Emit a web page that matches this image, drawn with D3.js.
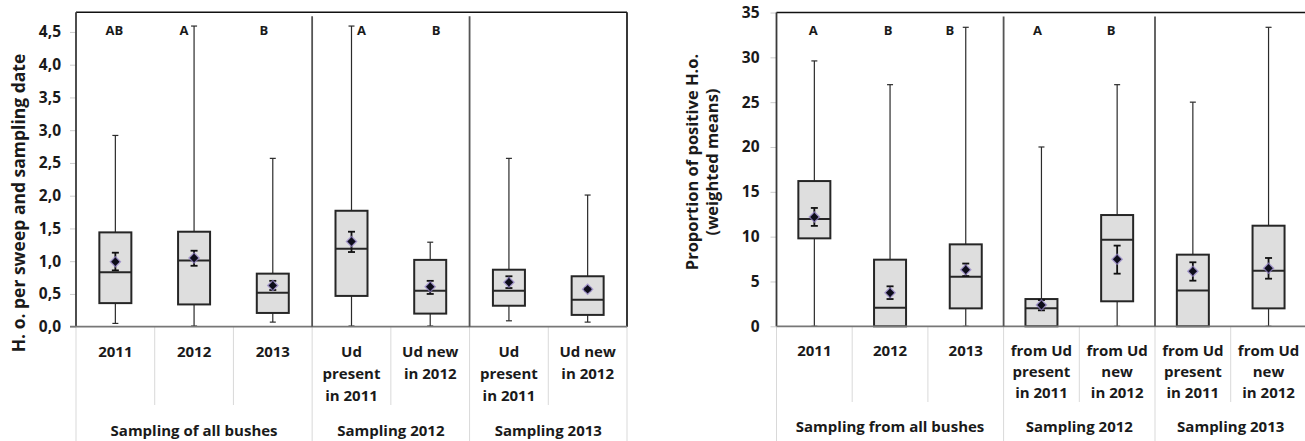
<!DOCTYPE html>
<html>
<head>
<meta charset="utf-8">
<script src="https://cdn.jsdelivr.net/npm/d3@7"></script>
<style>
  html, body { margin: 0; padding: 0; background: #fff; }
  svg { display: block; font-family: "Open Sans", "Noto Sans", sans-serif; font-weight: bold; }
</style>
</head>
<body>
<svg id="fig" width="1305" height="441"></svg>
<script>
// ---- Panel A: H. o. per sweep and sampling date ----
const hoCategories = [["2011"], ["2012"], ["2013"], ["Ud", "present", "in 2011"], ["Ud new", "in 2012"], ["Ud", "present", "in 2011"], ["Ud new", "in 2012"]];
const hoGroups = ["Sampling of all bushes", "Sampling 2012", "Sampling 2013"];
const hoGroupSpans = [[0, 2], [3, 4], [5, 6]];
const hoWhiskerLow = [0.05, 0.01, 0.07, 0.01, 0.01, 0.09, 0.07];
const hoQ1 = [0.36, 0.34, 0.21, 0.47, 0.20, 0.32, 0.18];
const hoMedian = [0.83, 1.01, 0.52, 1.19, 0.55, 0.55, 0.41];
const hoQ3 = [1.44, 1.45, 0.81, 1.77, 1.02, 0.87, 0.77];
const hoWhiskerHigh = [2.92, 4.59, 2.57, 4.59, 1.29, 2.57, 2.01];
const hoMean = [0.99, 1.05, 0.63, 1.30, 0.61, 0.68, 0.57];
const hoMeanLow = [0.86, 0.93, 0.56, 1.14, 0.50, 0.59, 0.55];
const hoMeanHigh = [1.13, 1.16, 0.70, 1.45, 0.70, 0.77, 0.59];
const hoLetters = ["AB", "A", "B", "A", "B", "", ""];
const hoTicks = [0, 0.5, 1, 1.5, 2, 2.5, 3, 3.5, 4, 4.5];
const hoMax = 4.8;

// ---- Panel B: proportion of positive H.o. ----
const posCategories = [["2011"], ["2012"], ["2013"], ["from Ud", "present", "in 2011"], ["from Ud", "new", "in 2012"], ["from Ud", "present", "in 2011"], ["from Ud", "new", "in 2012"]];
const posGroups = ["Sampling from all bushes", "Sampling 2012", "Sampling 2013"];
const posGroupSpans = [[0, 2], [3, 4], [5, 6]];
const posWhiskerLow = [0, 0, 0, 0, 0, 0, 0];
const posQ1 = [9.81, 0, 2.0, 0, 2.79, 0, 2.0];
const posMedian = [11.97, 2.07, 5.53, 2.0, 9.66, 4.0, 6.2];
const posQ3 = [16.2, 7.43, 9.14, 3.04, 12.41, 7.99, 11.22];
const posWhiskerHigh = [29.6, 26.95, 33.35, 20.0, 26.95, 25.0, 33.35];
const posMean = [12.2, 3.75, 6.31, 2.37, 7.47, 6.13, 6.47];
const posMeanLow = [11.2, 3.04, 5.6, 1.78, 5.87, 5.09, 5.31];
const posMeanHigh = [13.2, 4.46, 7.0, 2.93, 9.0, 7.14, 7.62];
const posLetters = ["A", "B", "B", "A", "B", "", ""];
const posTicks = [0, 5, 10, 15, 20, 25, 30, 35];
const posMax = 35;

const commaLocale = d3.formatLocale({ decimal: ",", thousands: ".", grouping: [3], currency: ["", ""] });

const svg = d3.select("#fig");
const ink = "#1a1a1a";

function drawPanel(cfg) {
  const g = svg.append("g");
  const n = cfg.categories.length;
  const x = d3.scaleBand().domain(d3.range(n)).range([cfg.left, cfg.right]);
  const y = d3.scaleLinear().domain([0, cfg.max]).range([cfg.bottom, cfg.top]);
  const cx = i => x(i) + x.bandwidth() / 2;
  const edge = i => i < n ? x(i) : cfg.right;
  const groupEnds = new Set(cfg.spans.map(s => s[1] + 1));
  const idx = d3.range(n);

  // separators in the label area under the axis
  g.selectAll("line.sep").data(d3.range(n + 1)).join("line")
    .attr("class", "sep")
    .attr("x1", edge).attr("x2", edge)
    .attr("y1", cfg.bottom)
    .attr("y2", i => (i === 0 || groupEnds.has(i)) ? 441 : cfg.catSepEnd)
    .attr("stroke", "#d9d9d9").attr("stroke-width", 1);

  // y axis
  const yAxis = d3.axisLeft(y).tickValues(cfg.ticks).tickSize(6).tickSizeOuter(0)
    .tickFormat(cfg.fmt).tickPadding(cfg.tickPad);
  const ax = g.append("g").attr("transform", `translate(${cfg.left},0)`).call(yAxis);
  ax.select(".domain").remove();
  ax.selectAll(".tick line").attr("stroke", "#cccccc");
  ax.selectAll(".tick text").attr("font-family", "'Open Sans', sans-serif").attr("font-weight", "bold")
    .attr("font-size", cfg.tickFont).attr("fill", ink);

  // y title
  const tt = g.append("text")
    .attr("transform", `translate(${cfg.titleX},${cfg.titleY}) rotate(-90)`)
    .attr("text-anchor", "middle").attr("font-size", cfg.titleFont).attr("fill", ink);
  cfg.title.forEach((t, k) => tt.append("tspan").attr("x", 0).attr("dy", k === 0 ? 0 : cfg.titleLine).text(t));

  // whiskers with end caps
  const whisk = g.append("g").attr("stroke", "#2b2b2b").attr("stroke-width", 1.2);
  idx.forEach(i => {
    whisk.append("line").attr("x1", cx(i)).attr("x2", cx(i))
      .attr("y1", y(cfg.whiskerLow[i])).attr("y2", y(cfg.whiskerHigh[i]));
    [cfg.whiskerLow[i], cfg.whiskerHigh[i]].forEach(v => {
      whisk.append("line").attr("x1", cx(i) - 3).attr("x2", cx(i) + 3).attr("y1", y(v)).attr("y2", y(v));
    });
  });

  // interquartile boxes and medians
  const bw = cfg.boxWidth;
  g.selectAll("rect.box").data(idx).join("rect")
    .attr("class", "box")
    .attr("x", i => cx(i) - bw / 2).attr("width", bw)
    .attr("y", i => y(cfg.q3[i])).attr("height", i => y(cfg.q1[i]) - y(cfg.q3[i]))
    .attr("fill", "#dedede").attr("stroke", "#262626").attr("stroke-width", 2);
  g.selectAll("line.median").data(idx).join("line")
    .attr("class", "median")
    .attr("x1", i => cx(i) - bw / 2).attr("x2", i => cx(i) + bw / 2)
    .attr("y1", i => y(cfg.median[i])).attr("y2", i => y(cfg.median[i]))
    .attr("stroke", "#262626").attr("stroke-width", 2);

  // weighted mean with its error bar
  const mg = g.append("g");
  idx.forEach(i => {
    const lo = y(cfg.meanLow[i]), hi = y(cfg.meanHigh[i]);
    mg.append("line").attr("x1", cx(i)).attr("x2", cx(i)).attr("y1", lo).attr("y2", hi)
      .attr("stroke", "#111").attr("stroke-width", 1.8);
    [lo, hi].forEach(v => mg.append("line").attr("x1", cx(i) - 3.5).attr("x2", cx(i) + 3.5)
      .attr("y1", v).attr("y2", v).attr("stroke", "#111").attr("stroke-width", 1.8));
    mg.append("path").attr("d", d3.symbol(d3.symbolSquare, 72)())
      .attr("transform", `translate(${cx(i)},${y(cfg.mean[i])}) rotate(45)`)
      .attr("fill", "#8e7cc3").attr("opacity", 0.75);
    mg.append("path").attr("d", d3.symbol(d3.symbolSquare, 36)())
      .attr("transform", `translate(${cx(i)},${y(cfg.mean[i])}) rotate(45)`)
      .attr("fill", "#0d0d1a");
  });

  // plot frame and group dividers
  const fr = g.append("g");
  fr.append("line").attr("x1", cfg.left).attr("x2", cfg.right).attr("y1", cfg.top).attr("y2", cfg.top)
    .attr("stroke", "#111").attr("stroke-width", 1.6);
  fr.append("line").attr("x1", cfg.left).attr("x2", cfg.left).attr("y1", cfg.top).attr("y2", cfg.bottom)
    .attr("stroke", "#3a3a3a").attr("stroke-width", 1.8);
  fr.append("line").attr("x1", cfg.right).attr("x2", cfg.right).attr("y1", cfg.top).attr("y2", cfg.bottom)
    .attr("stroke", "#222").attr("stroke-width", 1.8);
  fr.append("line").attr("x1", cfg.left - cfg.axisOver).attr("x2", cfg.right).attr("y1", cfg.bottom).attr("y2", cfg.bottom)
    .attr("stroke", "#777").attr("stroke-width", 1.8);
  cfg.spans.slice(0, -1).forEach(s => {
    const xs = x(s[1] + 1);
    fr.append("line").attr("x1", xs).attr("x2", xs).attr("y1", cfg.top + 4).attr("y2", cfg.bottom)
      .attr("stroke", "#555").attr("stroke-width", 1.8);
  });

  // significance letters
  g.selectAll("text.letter").data(idx).join("text")
    .attr("class", "letter")
    .attr("x", i => cx(i) + cfg.letterShift[i]).attr("y", cfg.letterY)
    .attr("text-anchor", "middle").attr("dominant-baseline", "central")
    .attr("font-size", cfg.letterFont).attr("fill", ink)
    .text(i => cfg.letters[i]);

  // category labels
  idx.forEach(i => {
    cfg.categories[i].forEach((t, k) => {
      g.append("text").attr("x", cx(i)).attr("y", cfg.catY + k * cfg.catLine)
        .attr("text-anchor", "middle").attr("dominant-baseline", "central")
        .attr("font-size", cfg.catFont).attr("fill", ink).text(t);
    });
  });

  // group labels
  cfg.groups.forEach((t, k) => {
    const s = cfg.spans[k];
    const gx = (edge(s[0]) + edge(s[1] + 1)) / 2;
    g.append("text").attr("x", gx).attr("y", cfg.groupY)
      .attr("text-anchor", "middle").attr("dominant-baseline", "central")
      .attr("font-size", cfg.catFont).attr("fill", ink).text(t);
  });
}

drawPanel({
  categories: hoCategories, groups: hoGroups, spans: hoGroupSpans,
  whiskerLow: hoWhiskerLow, q1: hoQ1, median: hoMedian, q3: hoQ3, whiskerHigh: hoWhiskerHigh,
  mean: hoMean, meanLow: hoMeanLow, meanHigh: hoMeanHigh, letters: hoLetters,
  ticks: hoTicks, max: hoMax, fmt: commaLocale.format(".1f"),
  left: 76, right: 627, top: 12.3, bottom: 326.7, boxWidth: 32, axisOver: 6,
  tickFont: 15.5, tickPad: 9,
  title: ["H. o.  per sweep and sampling date"], titleX: 25, titleY: 203, titleFont: 17.5, titleLine: 0,
  letterY: 29.5, letterFont: 13, letterShift: [-1, -10, -9, 10, 6, 0, 0],
  catY: 351, catLine: 22, catFont: 15, catSepEnd: 405, groupY: 430
});

drawPanel({
  categories: posCategories, groups: posGroups, spans: posGroupSpans,
  whiskerLow: posWhiskerLow, q1: posQ1, median: posMedian, q3: posQ3, whiskerHigh: posWhiskerHigh,
  mean: posMean, meanLow: posMeanLow, meanHigh: posMeanHigh, letters: posLetters,
  ticks: posTicks, max: posMax, fmt: d3.format("d"),
  left: 776.5, right: 1306.4, top: 12.5, bottom: 326.3, boxWidth: 32, axisOver: 0,
  tickFont: 15.5, tickPad: 11,
  title: ["Proportion of positive H.o.", "(weighted means)"], titleX: 698, titleY: 162, titleFont: 16.5, titleLine: 20,
  letterY: 29.5, letterFont: 13, letterShift: [-1, -2, -16, -4, -6, 0, 0],
  catY: 350, catLine: 21, catFont: 15, catSepEnd: 402, groupY: 426
});
</script>
</body>
</html>
